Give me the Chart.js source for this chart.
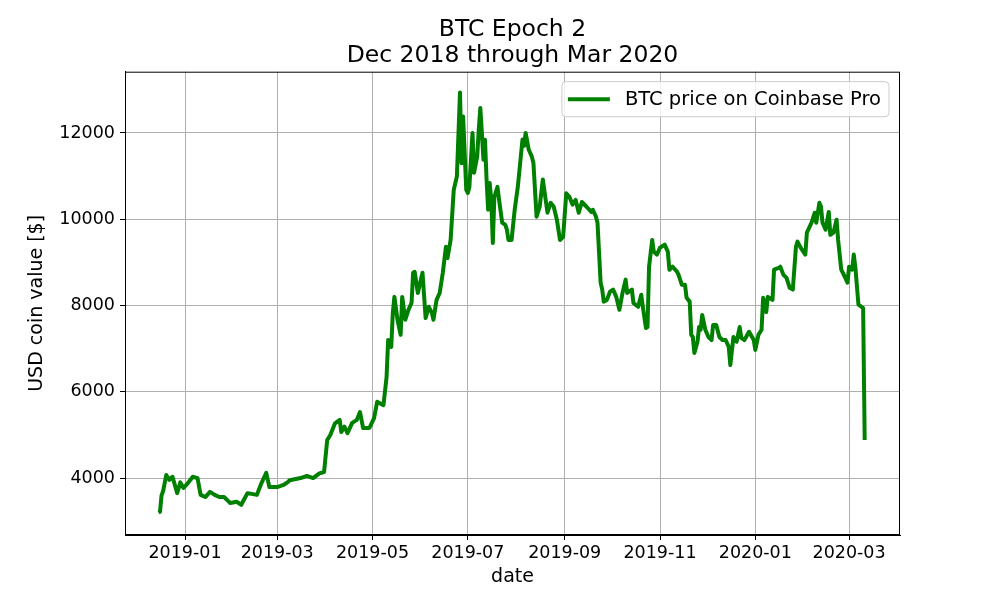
<!DOCTYPE html>
<html>
<head>
<meta charset="utf-8">
<title>BTC Epoch 2</title>
<script src="https://cdn.jsdelivr.net/npm/chart.js@4.4.1/dist/chart.umd.min.js"></script>
<style>
  html, body { margin: 0; padding: 0; background: #fff; }
  #wrap { width: 1000px; height: 600px; }
</style>
</head>
<body>
<div id="wrap"><canvas id="btcChart" width="1000" height="600"></canvas></div>
<script>
// dias contados desde 2019-01-01 (negativos = dic 2018)
const dias = [
  -17, -16, -15, -14, -12, -10, -8, -5, -3, -1, 2, 5, 8, 10, 13, 16, 19, 22, 25, 29,
  33, 36, 40, 46, 49, 52, 54, 59, 63, 66, 67, 74, 78, 82, 86, 89, 91, 93, 96, 99,
  100, 102, 104, 107, 110, 112, 114, 118, 121, 123, 127, 129, 130, 132, 133, 134, 136, 138, 139, 141,
  143, 145, 146, 147, 149, 152, 154, 156, 158, 159, 161, 163, 165, 167, 168, 170, 172, 174, 176, 177,
  178, 180, 181, 182, 184, 185, 187, 188, 189, 190, 191, 192, 193, 194, 195, 196, 197, 198, 200, 201,
  203, 205, 206, 207, 209, 211, 213, 216, 217, 218, 220,
  222, 223, 225, 227, 229, 232, 234, 236, 238, 240, 242, 244, 246, 248, 250,
  252, 254, 257, 260, 261, 263, 264, 266, 267, 268, 270, 272, 274, 276, 278, 280, 282, 283, 286, 287,
  290, 292, 293, 295, 296, 297, 299, 300, 302, 304, 307, 309, 310, 312, 315, 316, 318, 320, 321, 323,
  324, 325, 326, 328, 329, 330, 331, 333, 335, 337, 338, 340, 342, 344, 346, 348, 349, 351, 353, 355,
  356, 358, 361, 364, 365, 367, 369, 370, 372, 373, 376, 377, 380, 381, 383, 385, 387, 389, 391, 392,
  394, 397, 398, 401, 403, 404, 406, 407, 408, 410, 412, 413, 415, 417, 418, 420, 421, 424, 425, 427,
  428, 429, 431, 433, 434, 435
];
const precios = [
  3200, 3220, 3600, 3700, 4070, 3960, 4030, 3650, 3900, 3770, 3890, 4030, 4000, 3610, 3560, 3680, 3610, 3560, 3560, 3420,
  3450, 3380, 3650, 3610, 3890, 4120, 3790, 3790, 3840, 3910, 3950, 4000, 4050, 4000, 4110, 4140, 4880, 5000, 5270, 5350,
  5070, 5190, 5040, 5280, 5350, 5530, 5160, 5160, 5390, 5770, 5690, 6340, 7200, 7040, 7830, 8200, 7670, 7320, 8200, 7670,
  7900, 8060, 8760, 8780, 8290, 8760, 7710, 7970, 7830, 7670, 8130, 8290, 8760, 9360, 9100, 9520, 10680, 10990, 12940, 11300,
  12380, 10680, 10610, 10750, 12000, 11080, 11450, 12070, 12580, 12000, 11380, 11840, 10920, 10220, 10840, 10450, 9450, 10520, 10750, 10450,
  9920, 9870, 9760, 9520, 9520, 10220, 10750, 11850, 11700, 12000, 11610,
  11450, 11300, 10060, 10290, 10920, 10150, 10380, 10290, 9990, 9520, 9590, 10600, 10520, 10340, 10450,
  10150, 10400, 10290, 10170, 10220, 10060, 9920, 8530, 8370, 8090, 8130, 8320, 8370, 8200, 7900, 8290, 8600, 8290, 8370, 8060,
  7970, 8250, 7970, 7480, 7500, 8900, 9520, 9250, 9180, 9340, 9410, 9250, 8830, 8900, 8780, 8700, 8480, 8480, 8180, 8090,
  7320, 7270, 6900, 7160, 7500, 7440, 7780, 7440, 7270, 7200, 7550, 7550, 7270, 7200, 7200, 7040, 6620, 7270, 7160, 7500,
  7250, 7200, 7390, 7200, 6970, 7320, 7440, 8180, 7850, 8200, 8130, 8830, 8870, 8900, 8710, 8640, 8410, 8370, 9360, 9480,
  9340, 9180, 9690, 9920, 10150, 9920, 10380, 10300, 9920, 9760, 10170, 9640, 9690, 9990, 9520, 8830, 8760, 8530, 8900, 8830,
  9180, 8900, 8020, 7970, 7940, 4880
];

// marcas del eje x (inicio de mes) y del eje y
const diasTicks = [0, 59, 120, 181, 243, 304, 365, 425];
const etiquetasTicks = ['2019-01', '2019-03', '2019-05', '2019-07', '2019-09', '2019-11', '2020-01', '2020-03'];
const valoresY = [4000, 6000, 8000, 10000, 12000];

const serieNombre = 'BTC price on Coinbase Pro';
const fuente = "'DejaVu Sans', sans-serif";

// marco negro alrededor del area del grafico + leyenda dentro
const marcoYLeyenda = {
    id: 'marcoYLeyenda',
    afterDatasetsDraw(chart) {
        const { ctx, chartArea: a } = chart;
        ctx.save();
        ctx.strokeStyle = '#000';
        ctx.lineWidth = 1;
        ctx.strokeRect(a.left + 0.5, a.top + 0.5, a.right - a.left - 1, a.bottom - a.top - 1);

        // leyenda arriba a la derecha
        const ds = chart.data.datasets[0];
        ctx.font = '19.5px ' + fuente;
        const anchoTexto = ctx.measureText(ds.label).width;
        const ancho = 6 + 42 + 15 + anchoTexto + 8;
        const alto = 35;
        const x0 = a.right - 11 - ancho;
        const y0 = a.top + 10;
        ctx.beginPath();
        ctx.roundRect(x0, y0, ancho, alto, 4);
        ctx.fillStyle = 'rgba(255,255,255,0.8)';
        ctx.fill();
        ctx.strokeStyle = '#cccccc';
        ctx.stroke();
        ctx.beginPath();
        ctx.moveTo(x0 + 6, y0 + alto / 2);
        ctx.lineTo(x0 + 48, y0 + alto / 2);
        ctx.strokeStyle = ds.borderColor;
        ctx.lineWidth = 4;
        ctx.stroke();
        ctx.fillStyle = '#000';
        ctx.textBaseline = 'middle';
        ctx.fillText(ds.label, x0 + 63, y0 + alto / 2 + 1);
        ctx.restore();
    }
};

const ctx = document.getElementById('btcChart').getContext('2d');
new Chart(ctx, {
    type: 'line',
    data: {
        datasets: [{
            label: serieNombre,
            data: dias.map((d, i) => ({ x: d, y: precios[i] })),
            borderColor: '#008000',
            borderWidth: 4,
            pointRadius: 0,
            tension: 0,
            borderJoinStyle: 'round',
            fill: false
        }]
    },
    options: {
        responsive: false,
        animation: false,
        devicePixelRatio: 1,
        layout: { padding: { left: 0, right: 100, top: 0, bottom: 0 } },
        plugins: {
            legend: { display: false },
            tooltip: { enabled: false },
            title: {
                display: true,
                fullSize: false,
                text: ['BTC Epoch 2', 'Dec 2018 through Mar 2020'],
                color: '#000',
                font: { family: fuente, size: 23.5, weight: 'normal', lineHeight: 1.1 },
                padding: { top: 17, bottom: 3 }
            }
        },
        scales: {
            x: {
                type: 'linear',
                min: -38.4,
                max: 457.6,
                afterBuildTicks: scale => { scale.ticks = diasTicks.map(v => ({ value: v })); },
                afterFit: scale => { scale.height = 65; },
                ticks: {
                    color: '#000',
                    font: { family: fuente, size: 17.5 },
                    padding: 3,
                    maxRotation: 0,
                    autoSkip: false,
                    callback: v => etiquetasTicks[diasTicks.indexOf(v)]
                },
                grid: { color: '#b0b0b0', tickColor: '#000', tickLength: 5 },
                border: { color: '#000' },
                title: {
                    display: true,
                    text: 'date',
                    color: '#000',
                    font: { family: fuente, size: 19, lineHeight: 1.2 },
                    padding: { top: 0, bottom: 12 }
                }
            },
            y: {
                type: 'linear',
                min: 2680,
                max: 13420,
                afterBuildTicks: scale => { scale.ticks = valoresY.map(v => ({ value: v })); },
                afterFit: scale => { scale.width = 125; },
                ticks: {
                    color: '#000',
                    font: { family: fuente, size: 17.5 },
                    padding: 5,
                    callback: v => String(v)
                },
                grid: { color: '#b0b0b0', tickColor: '#000', tickLength: 5 },
                border: { color: '#000' },
                title: {
                    display: true,
                    text: 'USD coin value [$]',
                    color: '#000',
                    font: { family: fuente, size: 19, lineHeight: 1.2 },
                    padding: { top: 26, bottom: 0 }
                }
            }
        }
    },
    plugins: [marcoYLeyenda]
});
</script>
</body>
</html>
